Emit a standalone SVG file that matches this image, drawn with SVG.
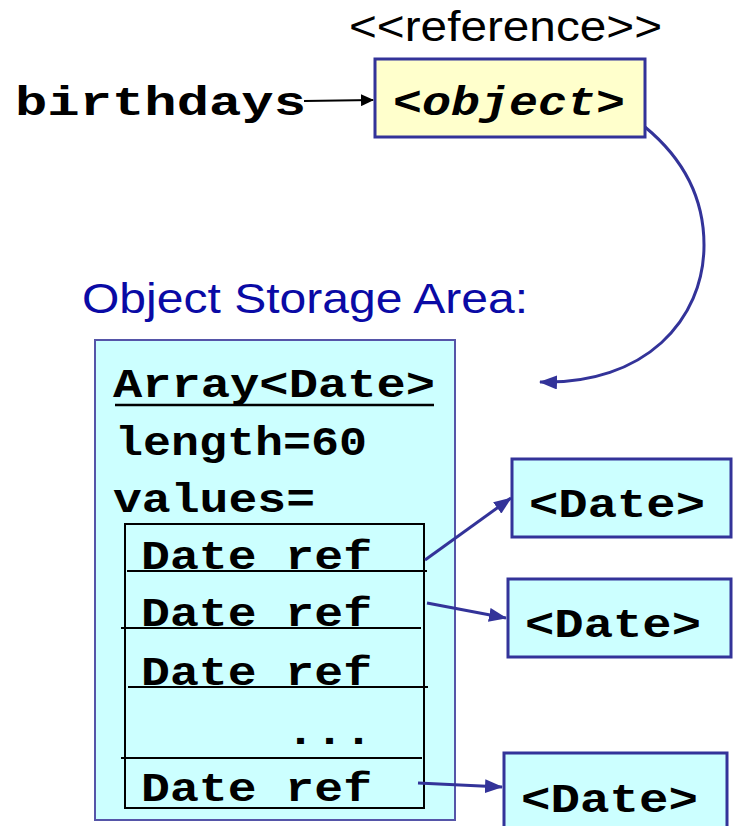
<svg xmlns="http://www.w3.org/2000/svg" width="733" height="826" viewBox="0 0 733 826">
  <style>
    .mono { font-family: "Liberation Mono", "Courier New", monospace; font-weight: bold; font-size: 40px; fill: #000; }
    .sans { font-family: "Liberation Sans", Arial, sans-serif; font-size: 42px; }
    .obj { fill: #FFFFCC; stroke: #333399; stroke-width: 3; }
    .cell { fill: #CCFFFF; stroke: #333399; stroke-width: 3; }
    .store { fill: #CCFFFF; stroke: #5555A8; stroke-width: 2; }
    .table { fill: none; stroke: #000; stroke-width: 2; }
    .row { stroke: #000; stroke-width: 2; }
    .link { fill: none; stroke: #333399; stroke-width: 3; marker-end: url(#blueHead); }
  </style>
  <defs>
    <marker id="blueHead" markerUnits="userSpaceOnUse" markerWidth="18" markerHeight="14" refX="17" refY="7" orient="auto">
      <path d="M0,0 L18,7 L0,14 Z" fill="#333399"/>
    </marker>
    <marker id="blackHead" markerUnits="userSpaceOnUse" markerWidth="13" markerHeight="12" refX="12" refY="6" orient="auto">
      <path d="M0,0 L13,6 L0,12 Z" fill="#000"/>
    </marker>
  </defs>

  <!-- variable name -->
  <g id="birthdays">
    <text class="mono" x="15" y="115" textLength="291" lengthAdjust="spacingAndGlyphs">birthdays</text>
  </g>

  <!-- reference cell -->
  <g id="reference">
    <text class="sans" x="349" y="41" fill="#000" textLength="313" lengthAdjust="spacingAndGlyphs">&lt;&lt;reference&gt;&gt;</text>
    <rect class="obj" x="375" y="59" width="270" height="78"/>
    <text class="mono" x="393" y="115" font-style="italic" textLength="232" lengthAdjust="spacingAndGlyphs">&lt;object&gt;</text>
  </g>

  <!-- heap label -->
  <g id="storage-label">
    <text class="sans" x="82" y="313" fill="#0A0AA5" font-size="43" textLength="446" lengthAdjust="spacingAndGlyphs">Object Storage Area:</text>
  </g>

  <!-- array object -->
  <g id="array">
    <rect class="store" x="95" y="340" width="360" height="480"/>
    <text class="mono" x="113" y="397" textLength="322" lengthAdjust="spacingAndGlyphs">Array&lt;Date&gt;</text>
    <line x1="115" y1="405" x2="434" y2="405" stroke="#000" stroke-width="2.5"/>
    <text class="mono" x="115" y="455" textLength="252" lengthAdjust="spacingAndGlyphs">length=60</text>
    <text class="mono" x="113" y="512" textLength="202" lengthAdjust="spacingAndGlyphs">values=</text>
    <rect class="table" x="125" y="524" width="299" height="284"/>
    <line class="row" x1="127" y1="571" x2="427" y2="571"/>
    <line class="row" x1="121" y1="628" x2="421" y2="628"/>
    <line class="row" x1="128" y1="687" x2="428" y2="687"/>
    <line class="row" x1="121" y1="758" x2="422" y2="758"/>
    <text class="mono" x="141" y="569" textLength="231" lengthAdjust="spacingAndGlyphs">Date ref</text>
    <text class="mono" x="141" y="626" textLength="231" lengthAdjust="spacingAndGlyphs">Date ref</text>
    <text class="mono" x="141" y="685" textLength="231" lengthAdjust="spacingAndGlyphs">Date ref</text>
    <text class="mono" x="286" y="744" textLength="87" lengthAdjust="spacingAndGlyphs">...</text>
    <text class="mono" x="141" y="801" textLength="231" lengthAdjust="spacingAndGlyphs">Date ref</text>
  </g>

  <!-- date objects -->
  <g id="date1">
    <rect class="cell" x="512" y="459" width="219" height="78"/>
    <text class="mono" x="529" y="517" textLength="176" lengthAdjust="spacingAndGlyphs">&lt;Date&gt;</text>
  </g>
  <g id="date2">
    <rect class="cell" x="508" y="579" width="223" height="78"/>
    <text class="mono" x="525" y="637" textLength="176" lengthAdjust="spacingAndGlyphs">&lt;Date&gt;</text>
  </g>
  <g id="date3">
    <rect class="cell" x="504" y="753" width="223" height="82"/>
    <text class="mono" x="521" y="812" textLength="177" lengthAdjust="spacingAndGlyphs">&lt;Date&gt;</text>
  </g>

  <!-- connectors -->
  <g id="connectors">
    <line x1="304" y1="101" x2="373" y2="100" stroke="#000" stroke-width="2" marker-end="url(#blackHead)"/>
    <path class="link" d="M645,127 C685,160 704,200 704,245 C704,320 645,385 540,382"/>
    <line class="link" x1="425" y1="560" x2="511" y2="498"/>
    <line class="link" x1="427" y1="603" x2="506" y2="618"/>
    <line class="link" x1="418" y1="783" x2="502" y2="787"/>
  </g>
</svg>
